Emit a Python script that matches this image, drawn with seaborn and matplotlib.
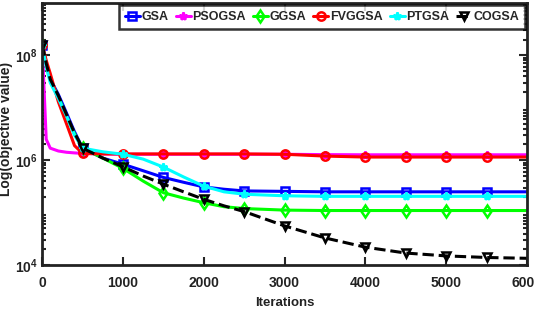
import matplotlib
matplotlib.use("Agg")
import matplotlib.pyplot as plt
import seaborn as sns
import numpy as np
from matplotlib.ticker import LogLocator, NullFormatter

sns.set_style("ticks")
plt.rcParams['font.family'] = ['Liberation Sans', 'DejaVu Sans']
plt.rcParams['font.weight'] = 'bold'
plt.rcParams['mathtext.fontset'] = 'custom'
plt.rcParams['mathtext.rm'] = 'Liberation Sans:bold'
plt.rcParams['mathtext.default'] = 'rm'

iterations = [0, 50, 100, 200, 300, 400, 500, 750, 1000, 1250, 1500, 1750, 2000,
              2250, 2500, 3000, 3500, 4000, 4500, 5000, 5500, 6000]

gsa    = [1.6e8, 7e7, 3.5e7, 1.8e7, 8e6, 3.5e6, 1.7e6, 1.1e6, 8.4e5, 6.3e5, 4.7e5, 3.8e5, 3.1e5,
          2.8e5, 2.6e5, 2.55e5, 2.5e5, 2.5e5, 2.5e5, 2.5e5, 2.5e5, 2.5e5]
psogsa = [1.6e8, 2.5e6, 1.7e6, 1.5e6, 1.42e6, 1.38e6, 1.35e6, 1.32e6, 1.3e6, 1.3e6, 1.3e6, 1.3e6, 1.3e6,
          1.3e6, 1.3e6, 1.3e6, 1.28e6, 1.27e6, 1.27e6, 1.27e6, 1.27e6, 1.27e6]
ggsa   = [1.6e8, 7e7, 3.5e7, 1.6e7, 7e6, 3.2e6, 1.7e6, 1.1e6, 7e5, 4e5, 2.4e5, 1.9e5, 1.55e5,
          1.3e5, 1.2e5, 1.12e5, 1.1e5, 1.1e5, 1.1e5, 1.1e5, 1.1e5, 1.1e5]
fvggsa = [1.6e8, 8e7, 4.5e7, 1.3e7, 5e6, 1.9e6, 1.35e6, 1.32e6, 1.32e6, 1.32e6, 1.32e6, 1.32e6, 1.32e6,
          1.32e6, 1.32e6, 1.3e6, 1.2e6, 1.15e6, 1.15e6, 1.15e6, 1.15e6, 1.15e6]
ptgsa  = [1.6e8, 6e7, 3e7, 1.5e7, 7e6, 3e6, 1.7e6, 1.45e6, 1.3e6, 1.05e6, 7.4e5, 4.8e5, 3.2e5,
          2.5e5, 2.25e5, 2.1e5, 2.05e5, 2.05e5, 2.05e5, 2.05e5, 2.05e5, 2.05e5]
cogsa  = [1.6e8, 7e7, 3.5e7, 1.7e7, 7.5e6, 3.3e6, 1.7e6, 1.1e6, 7.5e5, 5e5, 3.5e5, 2.5e5, 1.8e5,
          1.35e5, 1.05e5, 5.6e4, 3.3e4, 2.2e4, 1.7e4, 1.5e4, 1.4e4, 1.35e4]

names   = ["GSA", "PSOGSA", "GGSA", "FVGGSA", "PTGSA", "COGSA"]
series  = [gsa, psogsa, ggsa, fvggsa, ptgsa, cogsa]
colors  = ["#0000ff", "#ff00ff", "#00ff00", "#ff0000", "#00ffff", "#000000"]
markers = ["s", "*", "d", "o", "*", "v"]
styles  = ["-", "-", "-", "-", "-", "--"]
fills   = ["none", None, "none", "none", None, "none"]

mark_idx = [i for i, it in enumerate(iterations) if it % 500 == 0 and it < 6000]

fig = plt.figure(figsize=(5.34, 3.21), dpi=100)
ax = fig.add_axes([0.079, 0.174, 0.908, 0.817])

for nm, ys, c, m, ls, f in zip(names, series, colors, markers, styles, fills):
    kw = dict(color=c, marker=m, linestyle=ls, linewidth=2.2, markersize=6,
              markeredgewidth=1.8, markeredgecolor=c, markevery=mark_idx, label=nm)
    kw["markerfacecolor"] = "none" if f == "none" else c
    sns.lineplot(x=iterations, y=ys, ax=ax, **kw)

ax.set_yscale("log")
ax.set_xlim(0, 6000)
ax.set_ylim(1e4, 1e9)
ax.set_xticks([0, 1000, 2000, 3000, 4000, 5000, 6000])
ax.set_yticks([1e4, 1e6, 1e8])
ax.yaxis.set_minor_locator(LogLocator(base=10, subs=np.arange(2, 10), numticks=20))
ax.yaxis.set_minor_formatter(NullFormatter())
ax.tick_params(axis='both', which='both', direction='in', top=True, right=True, width=1.5)
ax.tick_params(axis='both', which='major', length=6, labelsize=10, labelcolor='#222222')
ax.tick_params(axis='x', which='major', pad=8)
ax.tick_params(axis='y', which='major', pad=3)
ax.tick_params(axis='both', which='minor', length=3)
for lab in ax.get_xticklabels() + ax.get_yticklabels():
    lab.set_fontweight('bold')
for sp in ax.spines.values():
    sp.set_linewidth(2)
    sp.set_color('#222222')

ax.set_xlabel("Iterations", fontsize=9.5, fontweight='bold', labelpad=5, color='#222222')
ax.set_ylabel("Log(objective value)", fontsize=10, fontweight='bold', color='#222222')
ax.yaxis.set_label_coords(-0.06, 0.52)

leg = ax.legend(loc='upper right', ncol=6, frameon=True, fancybox=False,
                edgecolor='black', fontsize=9, handlelength=1.2, handletextpad=0.15,
                columnspacing=0.55, borderpad=0.5, borderaxespad=0.15)
leg.get_frame().set_linewidth(1.8)
for t in leg.get_texts():
    t.set_fontweight('bold')

fig.savefig("out.png", dpi=100)
